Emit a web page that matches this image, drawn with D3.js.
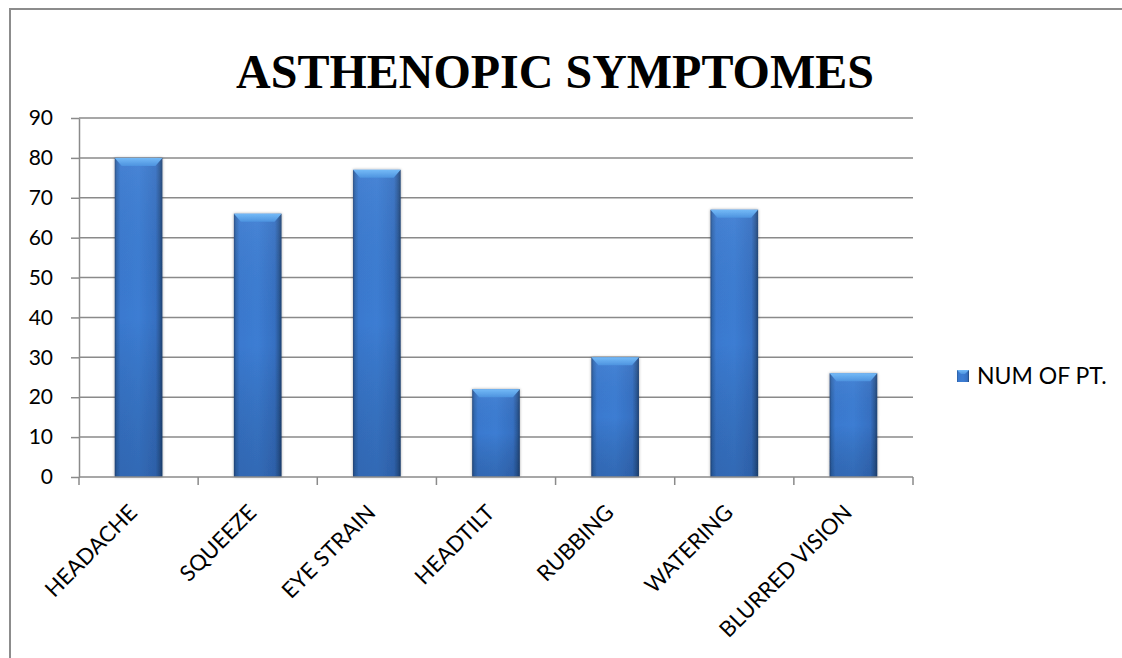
<!DOCTYPE html>
<html>
<head>
<meta charset="utf-8">
<script src="https://cdn.jsdelivr.net/npm/d3@7"></script>
<style>
  html, body { margin: 0; padding: 0; background: #fff; }
  svg { display: block; }
</style>
</head>
<body>
<svg id="chart" width="1122" height="658"></svg>
<script>
// Asthenopic symptoms: number of patients per symptom
const categories = ["HEADACHE", "SQUEEZE", "EYE STRAIN", "HEADTILT", "RUBBING", "WATERING", "BLURRED VISION"];
const patients = [80, 66, 77, 22, 30, 67, 26];
const yTicks = [0, 10, 20, 30, 40, 50, 60, 70, 80, 90];
const seriesName = "NUM OF PT.";
const chartTitle = "ASTHENOPIC SYMPTOMES";

const svg = d3.select("#chart");
const plot = { left: 79, right: 913, top: 118, bottom: 477 };
const labelFont = "Lato, 'Open Sans', sans-serif";

// outer frame
svg.append("rect")
  .attr("x", 10).attr("y", 9)
  .attr("width", 1140).attr("height", 680)
  .attr("fill", "#fff").attr("stroke", "#8c8c8c").attr("stroke-width", 2);

const defs = svg.append("defs");
// horizontal body gradient: dark rims, bright centre
const body = defs.append("linearGradient").attr("id", "barBody")
  .attr("x1", "0%").attr("x2", "100%").attr("y1", "0%").attr("y2", "0%");
[["0%", "#23477c"], ["4%", "#2f66ae"], ["12%", "#3a79cf"], ["50%", "#3c7dd3"],
 ["86%", "#3670c2"], ["94%", "#2b5a9a"], ["100%", "#1f4272"]]
  .forEach(([o, c]) => body.append("stop").attr("offset", o).attr("stop-color", c));

// vertical shading: slightly brighter top, darker base
const shade = defs.append("linearGradient").attr("id", "barShade")
  .attr("x1", "0%").attr("x2", "0%").attr("y1", "0%").attr("y2", "100%");
[["0%", "#ffffff", 0.06], ["50%", "#000000", 0], ["100%", "#0a1e40", 0.2]]
  .forEach(([o, c, a]) => shade.append("stop").attr("offset", o).attr("stop-color", c).attr("stop-opacity", a));

// bevelled cap
const bevel = defs.append("linearGradient").attr("id", "barBevel")
  .attr("x1", "0%").attr("x2", "0%").attr("y1", "0%").attr("y2", "100%");
[["0%", "#74baf7"], ["100%", "#4d93df"]]
  .forEach(([o, c]) => bevel.append("stop").attr("offset", o).attr("stop-color", c));

const glow = defs.append("filter").attr("id", "barGlow")
  .attr("x", "-20%").attr("y", "-5%").attr("width", "140%").attr("height", "110%");
glow.append("feGaussianBlur").attr("in", "SourceAlpha").attr("stdDeviation", 1.5).attr("result", "b");
glow.append("feComponentTransfer").attr("in", "b").attr("result", "s")
  .append("feFuncA").attr("type", "linear").attr("slope", 0.35);
const merge = glow.append("feMerge");
merge.append("feMergeNode").attr("in", "s");
merge.append("feMergeNode").attr("in", "SourceGraphic");

// scales
const x = d3.scaleBand().domain(categories)
  .range([plot.left, plot.right]).paddingInner(0.6).paddingOuter(0.3);
const y = d3.scaleLinear().domain([0, 90]).range([plot.bottom, plot.top]);

// gridlines
svg.append("g").selectAll("line").data(yTicks.filter(d => d > 0)).join("line")
  .attr("x1", plot.left).attr("x2", plot.right)
  .attr("y1", d => y(d)).attr("y2", d => y(d))
  .attr("stroke", "#8a8a8a").attr("stroke-width", 1.5);

// y axis
const yAxis = svg.append("g").attr("transform", `translate(${plot.left},0)`)
  .call(d3.axisLeft(y).tickValues(yTicks).tickSize(8).tickPadding(18).tickSizeOuter(0));
yAxis.select(".domain").attr("stroke", "#8a8a8a").attr("stroke-width", 1.5);
yAxis.selectAll(".tick line").attr("stroke", "#8a8a8a").attr("stroke-width", 1.5);
yAxis.selectAll(".tick text")
  .attr("font-family", labelFont).attr("font-size", 21).attr("fill", "#000");

// bars
const bars = svg.append("g").selectAll("g").data(categories).join("g")
  .attr("filter", "url(#barGlow)");
bars.append("rect")
  .attr("x", d => x(d)).attr("width", x.bandwidth())
  .attr("y", (d, i) => y(patients[i]))
  .attr("height", (d, i) => y(0) - y(patients[i]))
  .attr("fill", "url(#barBody)");
bars.append("rect")
  .attr("x", d => x(d)).attr("width", x.bandwidth())
  .attr("y", (d, i) => y(patients[i]))
  .attr("height", (d, i) => y(0) - y(patients[i]))
  .attr("fill", "url(#barShade)");
bars.append("path")
  .attr("d", (d, i) => {
    const x0 = x(d), x1 = x0 + x.bandwidth(), t = y(patients[i]), h = 8, e = 7;
    return `M${x0},${t}L${x1},${t}L${x1 - e},${t + h}L${x0 + e},${t + h}Z`;
  })
  .attr("fill", "url(#barBevel)");

// x axis line and boundary ticks
const bounds = categories.map(c => x(c) - x.step() * x.paddingInner() / 2).concat([plot.right]);
svg.append("line")
  .attr("x1", plot.left).attr("x2", plot.right)
  .attr("y1", plot.bottom).attr("y2", plot.bottom)
  .attr("stroke", "#8a8a8a").attr("stroke-width", 1.5);
svg.append("g").selectAll("line").data(bounds).join("line")
  .attr("x1", d => d).attr("x2", d => d)
  .attr("y1", plot.bottom).attr("y2", plot.bottom + 8)
  .attr("stroke", "#8a8a8a").attr("stroke-width", 1.5);

// category labels, rotated
svg.append("g").selectAll("text").data(categories).join("text")
  .attr("transform", d => `translate(${x(d) + x.bandwidth() / 2},${plot.bottom + 37}) rotate(-45)`)
  .attr("text-anchor", "end")
  .attr("font-family", labelFont).attr("font-size", 22).attr("fill", "#000")
  .text(d => d);

// title
svg.append("text")
  .attr("x", 555).attr("y", 88)
  .attr("text-anchor", "middle")
  .attr("font-family", "Liberation Serif, Times New Roman, serif")
  .attr("font-weight", "bold").attr("font-size", 48).attr("fill", "#000")
  .text(chartTitle);

// legend
const legend = svg.append("g").attr("transform", "translate(957,370)");
legend.append("rect").attr("width", 12).attr("height", 12).attr("fill", "url(#barBody)");
legend.append("path").attr("d", "M0,0L12,0L8,4L4,4Z").attr("fill", "url(#barBevel)");
legend.append("text")
  .attr("x", 20).attr("y", 6).attr("dy", "0.35em")
  .attr("font-family", labelFont).attr("font-size", 23).attr("fill", "#000")
  .text(seriesName);
</script>
</body>
</html>
